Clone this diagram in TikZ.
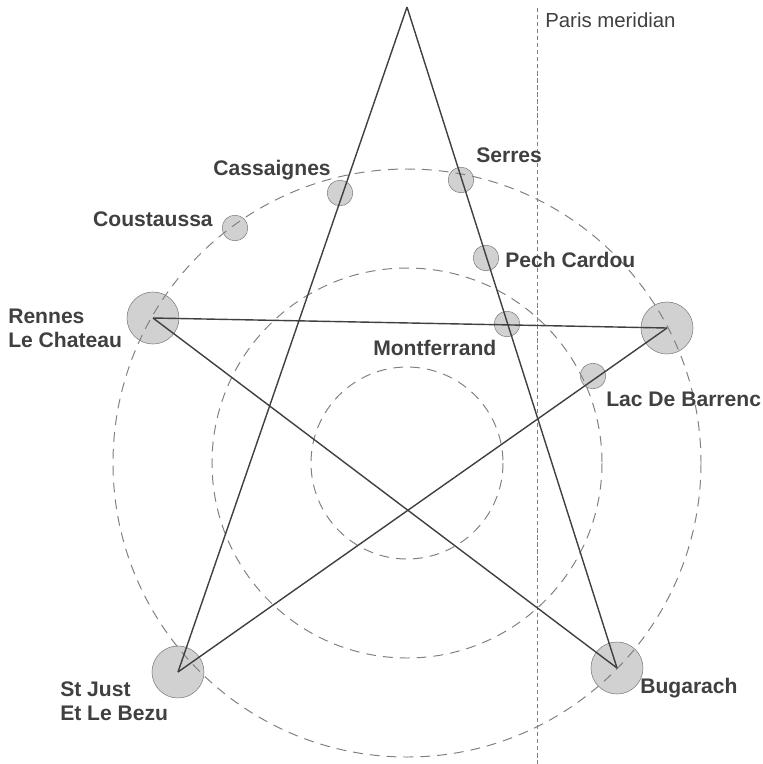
\documentclass[tikz,border=0pt]{standalone}
\usepackage{fontspec}
\setmainfont{Liberation Sans}
\definecolor{inkgray}{gray}{0.25}
\definecolor{ringgray}{gray}{0.5}
\definecolor{dotgray}{gray}{0.82}
\tikzstyle{bigsite}=[circle, inner sep=0pt, minimum size=1.3cm, draw=ringgray, fill=dotgray]
\tikzstyle{site}=[circle, inner sep=0pt, minimum size=0.64cm, draw=ringgray, fill=dotgray]
\tikzstyle{place}=[inner sep=0pt, font=\fontsize{15}{17}\selectfont\bfseries, text=inkgray, align=left]
\tikzstyle{ring}=[ringgray, line width=0.7pt, dash pattern=on 7pt off 5pt]
\tikzstyle{starline}=[inkgray, line width=1pt]
\tikzset{>=latex}

\begin{document}
\begin{tikzpicture}[x=0.025cm, y=-0.025cm]
\useasboundingbox (0,0) rectangle (763,764);

% sites of the pentagram
\node[bigsite] (rennes) at (153,318) {};
\node[bigsite] (east) at (667,328) {};
\node[bigsite] (stjust) at (178,672) {};
\node[bigsite] (bugarach) at (617,668) {};
\coordinate (top) at (407,7);

\node[site] (cassaignes) at (340,193) {};
\node[site] (serres) at (461,180) {};
\node[site] (coustaussa) at (235,228) {};
\node[site] (pech) at (486,258) {};
\node[site] (montferrand) at (507,324) {};
\node[site] (barrenc) at (593,376) {};

% rings round the centre
\coordinate (centre) at (407,463);
\foreach \r in {96, 195, 294}
	\draw[ring] (centre) circle [radius = \r];

\draw[ringgray, line width=0.6pt, dash pattern=on 3pt off 2pt] (537,8) -- (537,764);
\node[place, anchor=west, font=\fontsize{14.5}{17}\selectfont] (meridian) at (545,20) {Paris meridian};

\draw[starline] (top) -- (stjust.center);
\draw[starline] (top) -- (bugarach.center);
\draw[starline] (rennes.center) -- (east.center);
\draw[starline] (rennes.center) -- (bugarach.center);
\draw[starline] (stjust.center) -- (east.center);

\node[place, anchor=east] (lcassaignes) at (331,170) {Cassaignes};
\node[place, anchor=west] (lserres) at (476,155) {Serres};
\node[place, anchor=east] (lcoustaussa) at (213,219) {Coustaussa};
\node[place, anchor=west] (lpech) at (505,260) {Pech Cardou};
\node[place, anchor=west] (lrennes) at (8,328) {Rennes\\Le Chateau};
\node[place, anchor=west] (lmontferrand) at (373,348) {Montferrand};
\node[place, anchor=west] (lbarrenc) at (606,399) {Lac De Barrenc};
\node[place, anchor=west] (lstjust) at (60,701) {St Just\\Et Le Bezu};
\node[place, anchor=west] (lbugarach) at (640,688) {Bugarach};

\end{tikzpicture}
\end{document}
